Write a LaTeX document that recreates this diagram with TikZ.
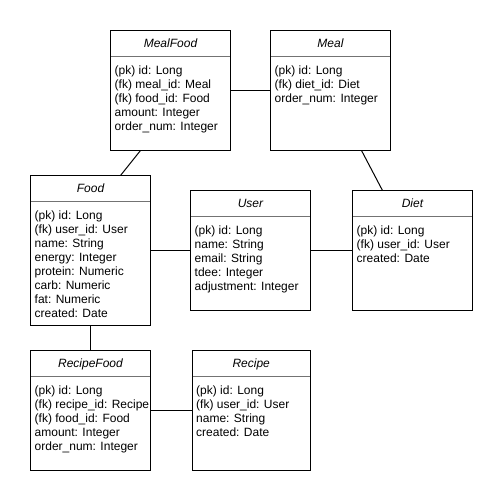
\documentclass[tikz,border=0pt]{standalone}
\usepackage{fontspec}
\setmainfont{Liberation Sans}
\usetikzlibrary{calc}
\tikzset{
  x=1pt, y=1pt,
  entbox/.style={draw=black, line width=1pt, anchor=north west, inner sep=0pt, outer sep=0pt, fill=white},
  sepline/.style={draw=black!55, line width=1pt},
  titletext/.style={anchor=base, inner sep=0pt, font=\fontsize{12}{14}\selectfont\itshape},
  bodytext/.style={anchor=north west, inner sep=0pt, align=left, font=\fontsize{12}{14}\selectfont},
  link/.style={draw=black, line width=1pt}
}
\newcommand{\erentity}[7]{%
  \node[entbox, minimum width=#4pt, minimum height=#5pt] (#1) at (#2,#3) {};
  \draw[sepline] ($(#1.north west)+(0.5,-26)$) -- ($(#1.north east)+(-0.5,-26)$);
  \node[titletext] (#1-t) at ($(#1.north)+(0,-17)$) {#6};
  \node[bodytext] (#1-b) at ($(#1.north west)+(4,-34.2)$) {\strut #7};
}
\begin{document}
\begin{tikzpicture}
\fill[white] (0,0) rectangle (503,-501);
\useasboundingbox (0,0) rectangle (503,-501);

\erentity{mf}{110.5}{-30.5}{120}{120}{MealFood}{(pk) id: Long\\(fk) meal\_id: Meal\\(fk) food\_id: Food\\amount: Integer\\order\_num: Integer}
\erentity{meal}{270.5}{-30.5}{120}{120}{Meal}{(pk) id: Long\\(fk) diet\_id: Diet\\order\_num: Integer}
\erentity{food}{30.5}{-175.5}{120}{150}{Food}{(pk) id: Long\\(fk) user\_id: User\\name: String\\energy: Integer\\protein: Numeric\\carb: Numeric\\fat: Numeric\\created: Date}
\erentity{user}{190.5}{-190.5}{120}{120}{User}{(pk) id: Long\\name: String\\email: String\\tdee: Integer\\adjustment: Integer}
\erentity{diet}{352.5}{-190.5}{120}{120}{Diet}{(pk) id: Long\\(fk) user\_id: User\\created: Date}
\erentity{rf}{30.5}{-350.5}{120}{120}{RecipeFood}{(pk) id: Long\\(fk) recipe\_id: Recipe\\(fk) food\_id: Food\\amount: Integer\\order\_num: Integer}
\erentity{recipe}{192}{-350.5}{118.5}{120}{Recipe}{(pk) id: Long\\(fk) user\_id: User\\name: String\\created: Date}

\draw[link] (mf.east) -- (meal.west);
\draw[link] ($(mf.south west)+(30,0)$) -- ($(food.north west)+(90,0)$);
\draw[link] ($(meal.south west)+(91,0)$) -- ($(diet.north west)+(30,0)$);
\draw[link] (food.east) -- (user.west);
\draw[link] (user.east) -- (diet.west);
\draw[link] ($(user.south)+(1.5,0)$) -- ($(user.south)+(1.5,0)$ |- recipe.north);
\draw[link] (food.south) -- (rf.north);
\draw[link] (rf.east) -- (recipe.west);
\end{tikzpicture}
\end{document}
